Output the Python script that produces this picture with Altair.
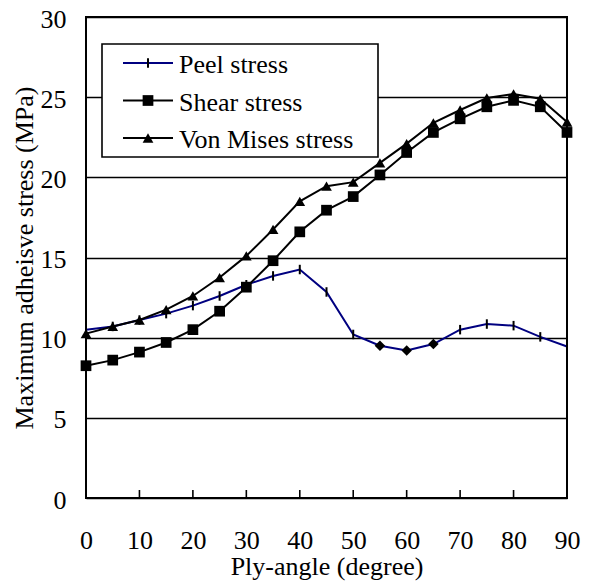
import altair as alt
import pandas as pd

angles = list(range(0, 95, 5))
peel = [10.5, 10.7, 11.1, 11.5, 12.0, 12.6, 13.3, 13.85, 14.25, 12.85, 10.2,
        9.5, 9.2, 9.6, 10.5, 10.85, 10.75, 10.05, 9.45]
shear = [8.25, 8.6, 9.1, 9.7, 10.5, 11.65, 13.15, 14.8, 16.6, 17.95, 18.8,
         20.15, 21.55, 22.8, 23.65, 24.4, 24.8, 24.4, 22.8]
mises = [10.25, 10.7, 11.1, 11.75, 12.6, 13.75, 15.1, 16.75, 18.5, 19.45, 19.7,
         20.9, 22.1, 23.4, 24.2, 24.95, 25.2, 24.9, 23.45]
peel_diamond_angles = [55, 60, 65]
series_names = ["Peel stress", "Shear stress", "Von Mises stress"]
series_colors = ["#000080", "#000000", "#000000"]
x_ticks = [0, 10, 20, 30, 40, 50, 60, 70, 80, 90]
y_ticks = [0, 5, 10, 15, 20, 25, 30]

FONT = "Liberation Serif, Times New Roman, serif"
FS = 26
W, H = 481, 481

rows = []
for name, vals in zip(series_names, [peel, shear, mises]):
    for a, v in zip(angles, vals):
        rows.append({"angle": a, "value": v, "series": name})
df = pd.DataFrame(rows)

xs = alt.Scale(domain=[0, 90], nice=False, zero=False)
ys = alt.Scale(domain=[0, 30], nice=False)

X = alt.X("angle:Q", scale=xs,
          axis=alt.Axis(values=x_ticks, title="Ply-angle (degree)", grid=False,
                        ticks=False, tickSize=0, domain=False, labelFont=FONT,
                        labelFontSize=FS, labelColor="black", labelPadding=29,
                        titleFont=FONT, titleFontSize=FS, titleFontWeight="normal",
                        titleColor="black", titlePadding=0, labelFlush=False))
Y = alt.Y("value:Q", scale=ys,
          axis=alt.Axis(values=y_ticks, title="Maximum adheisve stress (MPa)",
                        grid=True, gridColor="black", gridWidth=1.6, gridOpacity=1,
                        ticks=False, tickSize=0, domain=False, labelFont=FONT,
                        labelFontSize=FS, labelColor="black", labelPadding=20,
                        labelOffset=2, titleFont=FONT, titleFontSize=FS,
                        titleFontWeight="normal", titleColor="black",
                        titlePadding=3, labelFlush=False))

color = alt.Color("series:N", scale=alt.Scale(domain=series_names, range=series_colors),
                  legend=None)

lines = alt.Chart(df).mark_line(strokeWidth=2).encode(x=X, y=Y, color=color,
                                                        detail="series:N")

shear_pts = alt.Chart(df).transform_filter(alt.datum.series == "Shear stress").mark_point(
    shape="square", filled=True, size=115, color="black", opacity=1).encode(
    x=alt.X("angle:Q", scale=xs), y=alt.Y("value:Q", scale=ys))
mises_pts = alt.Chart(df).transform_filter(alt.datum.series == "Von Mises stress").mark_point(
    shape="triangle-up", filled=True, size=115, color="black", opacity=1).encode(
    x=alt.X("angle:Q", scale=xs), y=alt.Y("value:Q", scale=ys))
peel_df = df[df.series == "Peel stress"]
peel_ticks = alt.Chart(peel_df[~peel_df.angle.isin(peel_diamond_angles)]).mark_point(
    shape="M0,-1L0,1", filled=False, size=90, strokeWidth=2, color="black",
    opacity=1).encode(x=alt.X("angle:Q", scale=xs), y=alt.Y("value:Q", scale=ys))
peel_diam = alt.Chart(peel_df[peel_df.angle.isin(peel_diamond_angles)]).mark_point(
    shape="diamond", filled=True, size=110, color="black", opacity=1).encode(
    x=alt.X("angle:Q", scale=xs), y=alt.Y("value:Q", scale=ys))

tick_df = pd.DataFrame({"angle": x_ticks})
inner_ticks = alt.Chart(tick_df).mark_rule(color="black", strokeWidth=1.6).encode(
    x=alt.X("angle:Q", scale=xs), y=alt.value(H), y2=alt.value(H - 8))

# legend
leg_df = pd.DataFrame({"series": series_names, "i": [0, 1, 2]})
leg_box = alt.Chart(pd.DataFrame({"a": [0]})).mark_rect(
    fill="white", stroke="black", strokeWidth=1.6).encode(
    x=alt.value(16), x2=alt.value(292), y=alt.value(27), y2=alt.value(140))
leg_y = "46 + datum.i * 37.5"
leg_base = alt.Chart(leg_df).transform_calculate(py=leg_y)
leg_lines = leg_base.mark_rule(strokeWidth=2).encode(
    x=alt.value(37), x2=alt.value(87),
    y=alt.Y("py:Q", scale=None),
    color=alt.Color("series:N", scale=alt.Scale(domain=series_names, range=series_colors),
                    legend=None))
leg_text = leg_base.mark_text(align="left", baseline="middle", font=FONT, fontSize=FS,
                              color="black", dy=2).encode(
    x=alt.value(93), y=alt.Y("py:Q", scale=None), text="series:N")
leg_tick = leg_base.transform_filter(alt.datum.i == 0).mark_point(
    shape="M0,-1L0,1", filled=False, size=90, strokeWidth=2, color="black",
    opacity=1).encode(x=alt.value(62), y=alt.Y("py:Q", scale=None))
leg_sq = leg_base.transform_filter(alt.datum.i == 1).mark_point(
    shape="square", filled=True, size=115, color="black", opacity=1).encode(
    x=alt.value(62), y=alt.Y("py:Q", scale=None))
leg_tri = leg_base.transform_filter(alt.datum.i == 2).mark_point(
    shape="triangle-up", filled=True, size=115, color="black", opacity=1).encode(
    x=alt.value(62), y=alt.Y("py:Q", scale=None))

chart = alt.layer(lines, peel_ticks, peel_diam, shear_pts, mises_pts, inner_ticks,
                  leg_box, leg_lines, leg_tick, leg_sq, leg_tri, leg_text).properties(
    width=W, height=H, autosize=alt.AutoSizeParams(type="none"),
    padding={"left": 78, "top": 9, "right": 15, "bottom": 84},
    background="white").configure_view(stroke="black", strokeWidth=2)

chart.save("out.html", embed_options={"renderer": "svg", "actions": False})
